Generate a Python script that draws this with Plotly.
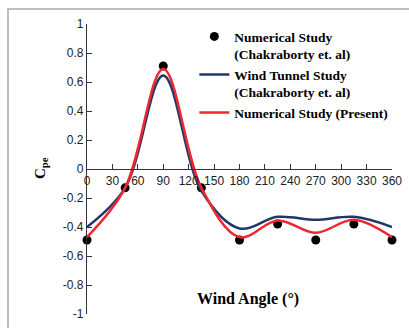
import plotly.graph_objects as go

angles = [0, 45, 90, 135, 180, 225, 270, 315, 360]
num_chakraborty = [-0.49, -0.13, 0.71, -0.13, -0.49, -0.38, -0.49, -0.38, -0.49]
wind_tunnel = [-0.40, -0.13, 0.645, -0.15, -0.41, -0.33, -0.35, -0.33, -0.40]
num_present = [-0.47, -0.13, 0.69, -0.13, -0.47, -0.355, -0.44, -0.35, -0.47]

x_ticks = list(range(0, 361, 30))
y_ticks = [round(-1 + 0.2 * i, 1) for i in range(11)]
y_ticklabels = ["-1", "-0.8", "-0.6", "-0.4", "-0.2", "0", "0.2", "0.4", "0.6", "0.8", "1"]

NAVY = "#1f3868"
RED = "#f0282d"
serif = "Liberation Serif"
sans = "Liberation Sans"

fig = go.Figure()
fig.add_trace(go.Scatter(
    x=angles, y=num_chakraborty, mode="markers",
    marker=dict(color="black", size=9),
    name="<b>Numerical Study<br>(Chakraborty et. al)</b>", cliponaxis=False))
fig.add_trace(go.Scatter(
    x=angles, y=wind_tunnel, mode="lines",
    line=dict(color=NAVY, width=2.5, shape="spline", smoothing=1.0),
    name="<b>Wind Tunnel Study<br>(Chakraborty et. al)</b>", cliponaxis=False))
fig.add_trace(go.Scatter(
    x=angles, y=num_present, mode="lines",
    line=dict(color=RED, width=2.5, shape="spline", smoothing=1.0),
    name="<b>Numerical Study (Present)</b>", cliponaxis=False))

fig.update_layout(
    width=409, height=328,
    margin=dict(l=87, r=17, t=24, b=14, autoexpand=False),
    paper_bgcolor="white", plot_bgcolor="white",
    showlegend=True,
    legend=dict(x=0.352, y=1.01, xanchor="left", yanchor="top",
                bgcolor="rgba(0,0,0,0)", valign="top",
                font=dict(family=serif, size=13.5, color="black"),
                tracegroupgap=0, itemwidth=30),
    xaxis=dict(range=[0, 360], tickvals=x_ticks, ticktext=[str(v) for v in x_ticks],
               showgrid=False, zeroline=False, showline=True, linecolor="#333",
               linewidth=1.2, ticks="inside", ticklen=5, tickcolor="#333",
               anchor="free", position=0.5,
               tickfont=dict(family=sans, size=12, color="#222")),
    yaxis=dict(range=[-1, 1], tickvals=y_ticks, ticktext=y_ticklabels,
               showgrid=False, zeroline=False, showline=True, linecolor="#333",
               linewidth=1.2, ticks="inside", ticklen=5, tickcolor="#333",
               domain=[0, 1],
               tickfont=dict(family=sans, size=12, color="#222")),
    shapes=[dict(type="rect", xref="paper", yref="paper",
                 x0=(8 - 87) / 305, x1=1.2, y0=-0.2, y1=1 + (24 - 9) / 290,
                 line=dict(color="#aaaaaa", width=1.5), fillcolor="rgba(0,0,0,0)", layer="below")],
    annotations=[
        dict(text="<b>C<sub>pe</sub></b>", xref="paper", yref="paper",
             x=(41 - 87) / 305, y=1 - (168 - 24) / 290, textangle=-90,
             showarrow=False, font=dict(family=serif, size=15, color="black"),
             xanchor="center", yanchor="middle"),
        dict(text="<b>Wind Angle (°)</b>", xref="paper", yref="paper",
             x=(248 - 87) / 305, y=1 - (299 - 24) / 290,
             showarrow=False, font=dict(family=serif, size=16, color="black"),
             xanchor="center", yanchor="middle"),
    ],
)

fig.write_html("out.html")
